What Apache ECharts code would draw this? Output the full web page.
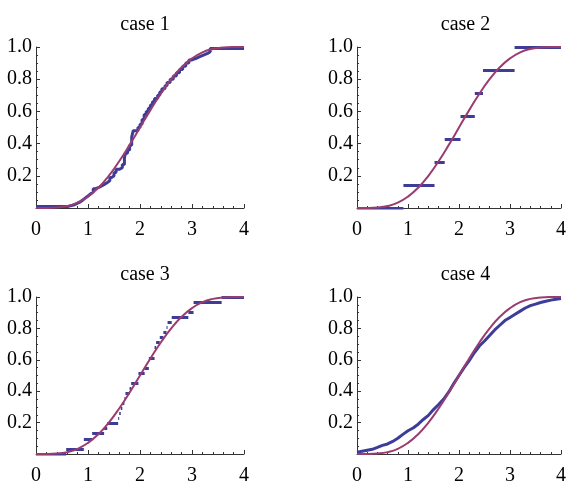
<!DOCTYPE html>
<html>
<head>
<meta charset="utf-8">
<script src="https://cdn.jsdelivr.net/npm/echarts@6/dist/echarts.min.js"></script>
<style>html,body{margin:0;padding:0;background:#fff;}#c{width:569px;height:486px;}</style>
</head>
<body>
<div id="c"></div>
<script>
// ---- data ----
const titles = ['case 1', 'case 2', 'case 3', 'case 4'];
const xTicks = [0, 1, 2, 3, 4];
const yTicks = [0.2, 0.4, 0.6, 0.8, 1.0];

// theoretical CDF (purple), read at x = 0, 0.2, ..., 4
const curveX = [0, 0.2, 0.4, 0.6, 0.8, 1.0, 1.2, 1.4, 1.6, 1.8, 2.0, 2.2, 2.4, 2.6, 2.8, 3.0, 3.2, 3.4, 3.6, 3.8, 4.0];
const curveY = [0, 0.0003, 0.003, 0.012, 0.033, 0.071, 0.126, 0.2, 0.29, 0.392, 0.5, 0.608, 0.71, 0.8, 0.874, 0.929, 0.967, 0.988, 0.997, 0.9997, 1.0];

// case 1 empirical CDF (step points: jump position, level after jump)
const case1X = [0, 0.62, 0.68, 0.74, 0.8, 0.86, 0.9, 0.94, 0.98, 1.02, 1.06, 1.1, 1.15, 1.22, 1.28, 1.33, 1.38, 1.42, 1.46, 1.5, 1.54, 1.6, 1.66, 1.7, 1.72, 1.76, 1.8, 1.84, 1.87, 1.96, 2.0, 2.04, 2.08, 2.12, 2.16, 2.2, 2.24, 2.28, 2.34, 2.38, 2.42, 2.48, 2.52, 2.58, 2.64, 2.7, 2.76, 2.82, 2.88, 2.94, 3.0, 3.08, 3.15, 3.22, 3.3, 3.35, 4.0];
const case1Y = [0.01, 0.015, 0.02, 0.03, 0.04, 0.05, 0.06, 0.07, 0.08, 0.09, 0.1, 0.12, 0.13, 0.14, 0.15, 0.16, 0.17, 0.19, 0.2, 0.22, 0.24, 0.25, 0.27, 0.31, 0.34, 0.36, 0.39, 0.44, 0.48, 0.5, 0.52, 0.55, 0.58, 0.6, 0.62, 0.64, 0.66, 0.68, 0.7, 0.72, 0.74, 0.76, 0.78, 0.8, 0.82, 0.84, 0.86, 0.88, 0.9, 0.92, 0.93, 0.94, 0.95, 0.96, 0.97, 0.99, 0.99];

// case 2 empirical CDF (horizontal pieces)
const case2Start = [0, 0.91, 1.52, 1.72, 2.03, 2.31, 2.47, 3.09];
const case2End   = [0.91, 1.52, 1.72, 2.03, 2.31, 2.47, 3.09, 4.0];
const case2Level = [0, 0.143, 0.286, 0.429, 0.571, 0.714, 0.857, 1.0];

// case 3 empirical CDF (horizontal pieces)
const case3Start = [0, 0.58, 0.92, 1.08, 1.31, 1.37, 1.58, 1.60, 1.63, 1.66, 1.70, 1.72, 1.80, 1.83, 1.97, 2.09, 2.17, 2.28, 2.31, 2.38, 2.45, 2.51, 2.53, 2.61, 2.93, 3.03, 3.57];
const case3End   = [0.58, 0.92, 1.08, 1.31, 1.37, 1.58, 1.60, 1.63, 1.66, 1.70, 1.72, 1.80, 1.83, 1.97, 2.09, 2.17, 2.28, 2.31, 2.38, 2.45, 2.51, 2.53, 2.61, 2.93, 3.03, 3.57, 4.0];
const case3Level = [0, 0.03, 0.097, 0.13, 0.162, 0.195, 0.226, 0.258, 0.29, 0.322, 0.354, 0.386, 0.42, 0.452, 0.516, 0.548, 0.613, 0.677, 0.71, 0.742, 0.774, 0.806, 0.839, 0.871, 0.903, 0.968, 1.0];

// case 4 empirical CDF (dense), read at x = 0, 0.1, ..., 4
const case4X = [0, 0.1, 0.2, 0.3, 0.4, 0.5, 0.6, 0.7, 0.8, 0.9, 1.0, 1.1, 1.2, 1.3, 1.4, 1.5, 1.6, 1.7, 1.8, 1.9, 2.0, 2.1, 2.2, 2.3, 2.4, 2.5, 2.6, 2.7, 2.8, 2.9, 3.0, 3.1, 3.2, 3.3, 3.4, 3.5, 3.6, 3.7, 3.8, 3.9, 4.0];
const case4Y = [0.012, 0.018, 0.024, 0.03, 0.042, 0.055, 0.064, 0.08, 0.1, 0.125, 0.148, 0.166, 0.19, 0.22, 0.246, 0.283, 0.315, 0.35, 0.395, 0.45, 0.5, 0.55, 0.595, 0.645, 0.688, 0.72, 0.755, 0.79, 0.82, 0.85, 0.87, 0.89, 0.91, 0.93, 0.945, 0.955, 0.965, 0.973, 0.98, 0.985, 0.99];

// ---- chart ----
const BLUE = '#3d3d99', PURPLE = '#993d71';
const FONT = "'Liberation Serif', 'Times New Roman', serif";
const grids = [
  {left: 36, top: 47, width: 208, height: 161},
  {left: 357, top: 47, width: 207, height: 161},
  {left: 36, top: 297, width: 208, height: 162},
  {left: 357, top: 297, width: 207, height: 162}
];
const zip = (a, b) => a.map((v, i) => [v, b[i]]);
const segs = (s, e, l) => s.map((v, i) => ({coords: [[v, l[i]], [e[i], l[i]]]}));

const xAxes = [], yAxes = [], titleArr = [], series = [];
grids.forEach((g, i) => {
  titleArr.push({text: titles[i], left: g.left + g.width / 2, top: g.top - 37, textAlign: 'center',
    textStyle: {fontFamily: FONT, fontSize: 20, fontWeight: 'normal', color: '#000'}});
  xAxes.push({type: 'value', gridIndex: i, min: xTicks[0], max: xTicks[xTicks.length - 1], interval: 1,
    axisLine: {lineStyle: {color: '#333', width: 1}},
    axisTick: {inside: true, length: 4, lineStyle: {color: '#333'}},
    minorTick: {show: true, splitNumber: 5, length: 2, lineStyle: {color: '#333'}},
    splitLine: {show: false},
    axisLabel: {fontFamily: FONT, fontSize: 20, color: '#000', margin: 12, formatter: v => String(v)}});
  yAxes.push({type: 'value', gridIndex: i, min: 0, max: yTicks[yTicks.length - 1], interval: 0.2,
    axisLine: {show: true, lineStyle: {color: '#333', width: 1}},
    axisTick: {show: true, inside: true, length: 4, lineStyle: {color: '#333'}},
    minorTick: {show: true, splitNumber: 4, length: 2, lineStyle: {color: '#333'}},
    splitLine: {show: false},
    axisLabel: {fontFamily: FONT, fontSize: 20, color: '#000', margin: 4,
      formatter: v => (v === 0 ? '' : v.toFixed(1))}});
});

// empirical curves
series.push({type: 'line', xAxisIndex: 0, yAxisIndex: 0, data: zip(case1X, case1Y), step: 'end',
  symbol: 'none', clip: false, lineStyle: {color: BLUE, width: 3}});
series.push({type: 'lines', coordinateSystem: 'cartesian2d', xAxisIndex: 1, yAxisIndex: 1,
  data: segs(case2Start, case2End, case2Level), lineStyle: {color: BLUE, width: 3, opacity: 1}});
series.push({type: 'lines', coordinateSystem: 'cartesian2d', xAxisIndex: 2, yAxisIndex: 2,
  data: segs(case3Start, case3End, case3Level), lineStyle: {color: BLUE, width: 3, opacity: 1}});
series.push({type: 'line', xAxisIndex: 3, yAxisIndex: 3, data: zip(case4X, case4Y),
  symbol: 'none', clip: false, lineStyle: {color: BLUE, width: 3}});
// theoretical curves
for (let i = 0; i < 4; i++) {
  series.push({type: 'line', xAxisIndex: i, yAxisIndex: i, data: zip(curveX, curveY), smooth: 0.5,
    symbol: 'none', clip: false, lineStyle: {color: PURPLE, width: 2}, z: 5});
}

const chart = echarts.init(document.getElementById('c'), null, {renderer: 'canvas'});
chart.setOption({animation: false, backgroundColor: '#fff', title: titleArr, grid: grids,
  xAxis: xAxes, yAxis: yAxes, series: series});
</script>
</body>
</html>
